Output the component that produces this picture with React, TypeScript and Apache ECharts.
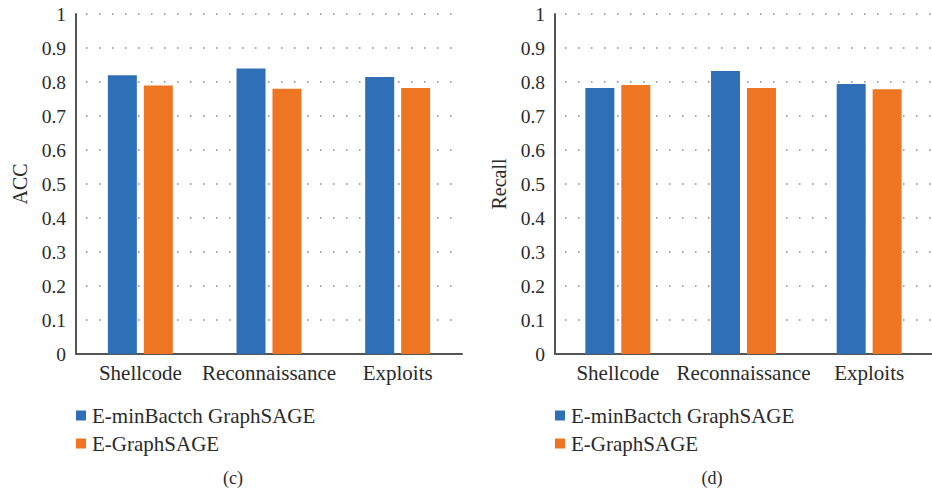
import React, { useEffect, useRef } from "react";
import * as echarts from "echarts";

const categories = ["Shellcode", "Reconnaissance", "Exploits"];
const seriesNames = ["E-minBactch GraphSAGE", "E-GraphSAGE"];
const accMinBatch = [0.82, 0.84, 0.815];
const accGraphSage = [0.79, 0.78, 0.782];
const recallMinBatch = [0.782, 0.832, 0.794];
const recallGraphSage = [0.791, 0.782, 0.779];
const panelNames = ["ACC", "Recall"];
const captions = ["(c)", "(d)"];

const FONT = "Liberation Serif";
const TEXT = "#2a2a2a";
const BLUE = "#2F6FB7";
const ORANGE = "#EE7623";

export default function App() {
  const ref = useRef<HTMLDivElement>(null);
  useEffect(() => {
    if (!ref.current) return;
    const chart = echarts.init(ref.current, null, { renderer: "svg" });
    const grids = [
      { left: 76, top: 14, width: 386, height: 340 },
      { left: 555, top: 14, width: 386, height: 340 },
    ];
    const xAxes = grids.map((_, i) => ({
      type: "category",
      gridIndex: i,
      data: categories,
      axisLine: { show: true, lineStyle: { color: "#555", width: 2 } },
      axisTick: { show: false },
      axisLabel: { color: TEXT, fontFamily: FONT, fontSize: 21, margin: 8, interval: 0 },
      splitLine: { show: false },
    }));
    const yAxes = grids.map((_, i) => ({
      type: "value",
      gridIndex: i,
      min: 0,
      max: 1,
      interval: 0.1,
      name: panelNames[i],
      nameLocation: "middle",
      nameGap: 46,
      nameTextStyle: { color: TEXT, fontFamily: FONT, fontSize: 20 },
      axisLine: { show: true, lineStyle: { color: "#555", width: 2 } },
      axisTick: { show: false },
      axisLabel: { color: TEXT, fontFamily: FONT, fontSize: 19.5, margin: 10 },
      splitLine: {
        show: true,
        lineStyle: { color: "#888", width: 1.5, type: [1.5, 11.5], dashOffset: -10 },
      },
    }));
    const data = [
      [accMinBatch, accGraphSage],
      [recallMinBatch, recallGraphSage],
    ];
    const colors = [BLUE, ORANGE];
    const series: any[] = [];
    data.forEach((pair, gi) => {
      pair.forEach((vals, si) => {
        series.push({
          type: "bar",
          name: seriesNames[si],
          xAxisIndex: gi,
          yAxisIndex: gi,
          data: vals,
          barWidth: 29,
          barGap: "24%",
          itemStyle: { color: colors[si] },
        });
      });
    });
    const legends = [76, 555].map((left) => ({
      data: seriesNames,
      orient: "vertical",
      left: left,
      top: 405,
      padding: 0,
      icon: "rect",
      itemWidth: 10,
      itemHeight: 10,
      itemGap: 7,
      textStyle: { color: TEXT, fontFamily: FONT, fontSize: 21, padding: [0, 0, 0, 1] },
      selectedMode: false,
    }));
    chart.setOption({
      animation: false,
      color: colors,
      grid: grids,
      xAxis: xAxes,
      yAxis: yAxes,
      series,
      legend: legends,
      graphic: [
        {
          type: "text",
          x: 233,
          y: 478,
          style: { text: captions[0], fill: TEXT, fontFamily: FONT, fontSize: 18, textAlign: "center", textVerticalAlign: "middle" },
        },
        {
          type: "text",
          x: 712,
          y: 478,
          style: { text: captions[1], fill: TEXT, fontFamily: FONT, fontSize: 18, textAlign: "center", textVerticalAlign: "middle" },
        },
      ],
    });
    return () => chart.dispose();
  }, []);
  return (
    <div
      ref={ref}
      style={{ position: "absolute", left: 0, top: 0, width: 932, height: 498, background: "#fff" }}
    />
  );
}
